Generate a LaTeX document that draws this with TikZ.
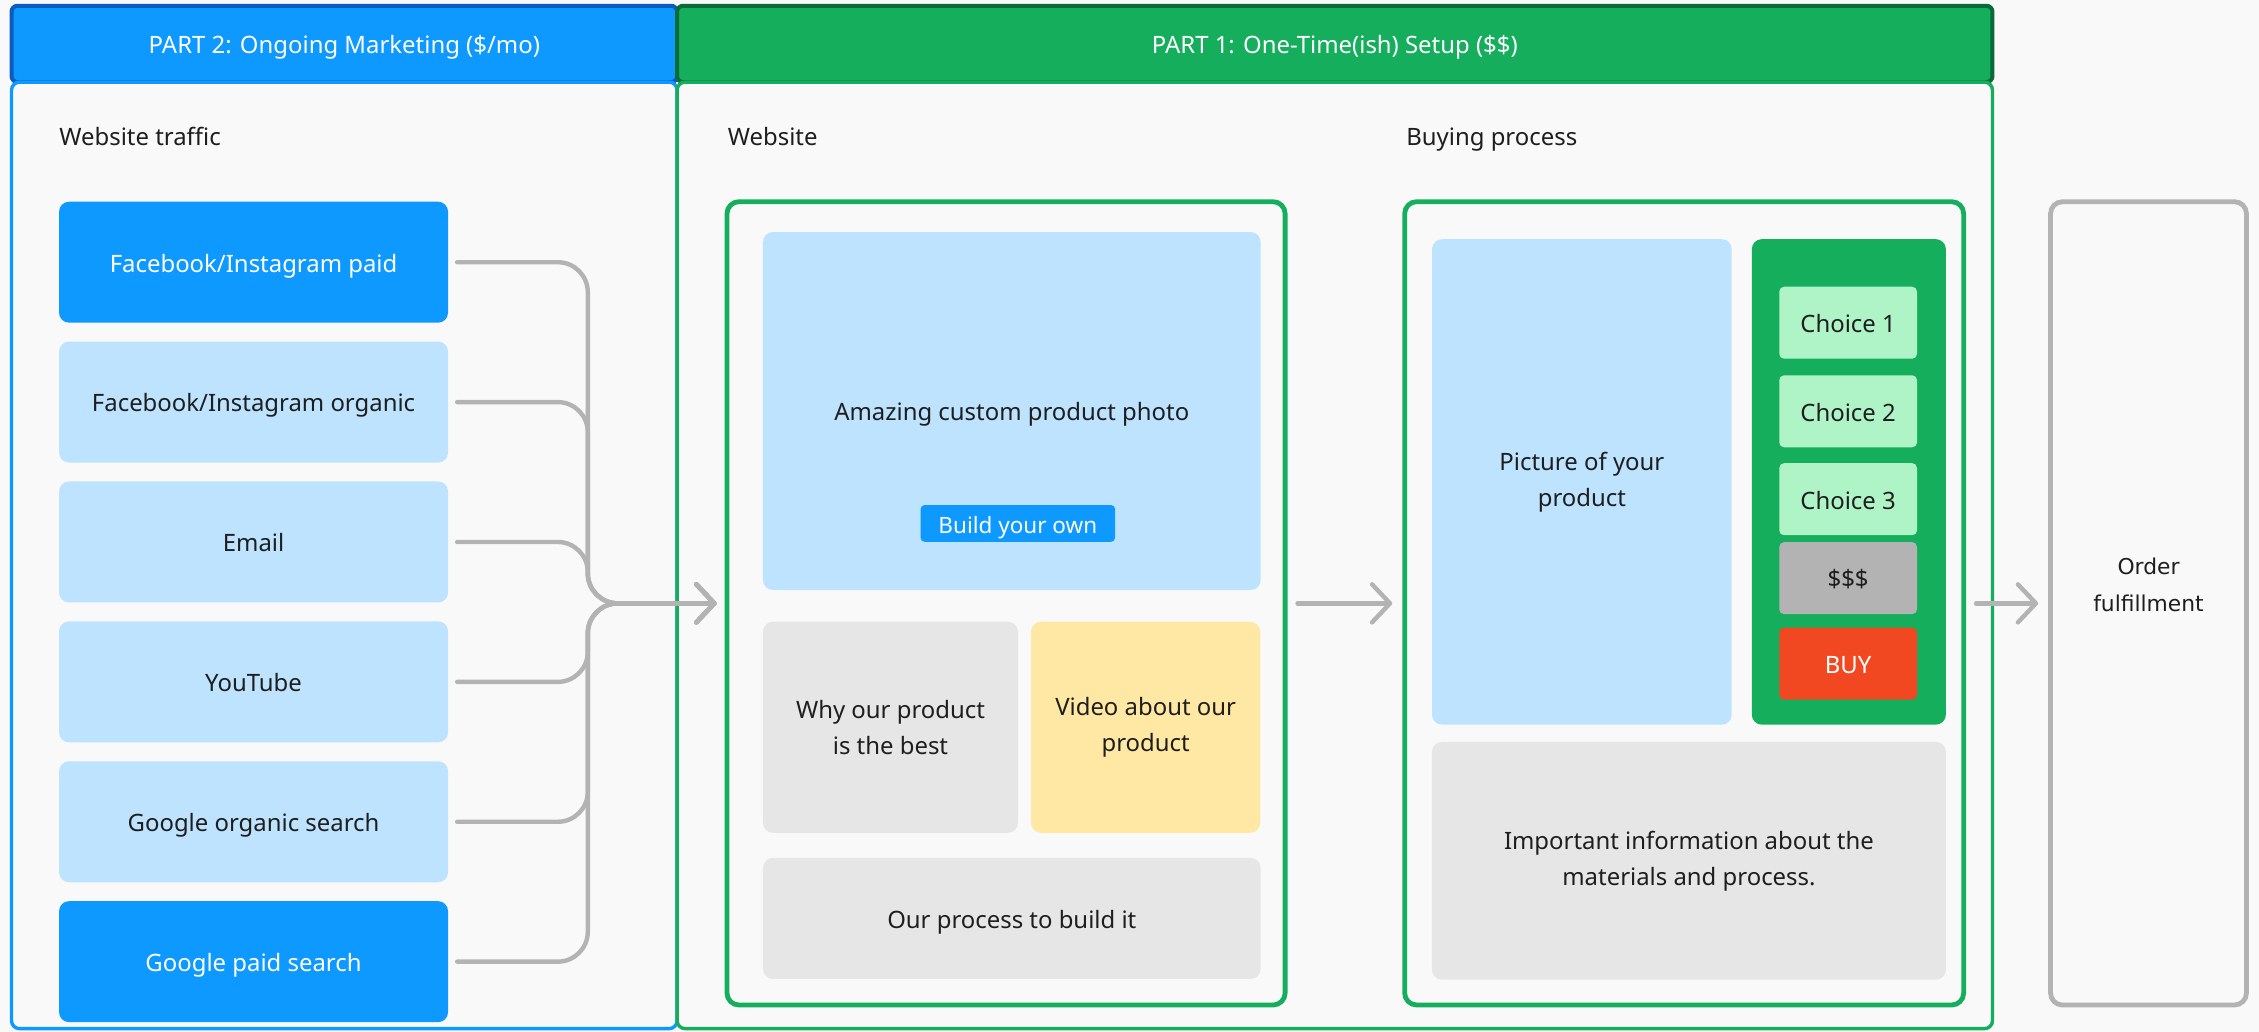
\documentclass[tikz,border=0pt]{standalone}
\usepackage{fontspec}
\setmainfont{Noto Sans}
\newfontfamily\orderfont{DejaVu Sans}
\usetikzlibrary{arrows.meta,positioning}
\definecolor{Paper}{HTML}{F9F9F9}
\definecolor{Ink}{HTML}{1E1E1E}
\definecolor{Blue}{HTML}{0D99FF}
\definecolor{BlueDark}{HTML}{0B5CC0}
\definecolor{Green}{HTML}{14AE5C}
\definecolor{GreenDark}{HTML}{0B6B38}
\definecolor{Sky}{HTML}{BDE3FF}
\definecolor{Mist}{HTML}{E6E6E6}
\definecolor{Butter}{HTML}{FFE8A3}
\definecolor{Mint}{HTML}{AFF4C6}
\definecolor{Wire}{HTML}{B3B3B3}
\definecolor{Alert}{HTML}{F24822}
\newcommand{\px}{0.36mm}
\newcommand{\boxfont}{\fontsize{17pt}{25.6pt}\selectfont}
\newcommand{\btnfont}{\fontsize{16pt}{20pt}\selectfont}
\tikzset{
  every node/.append style={text=Ink, font=\boxfont, align=center, inner sep=0pt},
  sz/.style 2 args={minimum width=#1*\px, minimum height=#2*\px},
  oneline/.style={text height=16pt, text depth=2pt},
  parthead/.style={draw=#1Dark, fill=#1, line width=1mm, rounded corners=1.5mm, text=white, oneline},
  partbody/.style={draw=#1, fill=Paper, line width=0.85mm, rounded corners=2mm},
  frame/.style={draw=Green, fill=Paper, line width=1.2mm, rounded corners=3mm},
  tile/.style={fill=#1, rounded corners=2.5mm},
  traffic/.style={tile=#1, sz={270}{84}, oneline},
  chip/.style={fill=#1, rounded corners=1.2mm, sz={95.6}{50}, oneline},
  tag/.style={anchor=base west},
  link/.style={draw=Wire, line width=1.1mm, rounded corners=7.5mm, line cap=round},
  arr/.style={link, -{Straight Barb[length=4.5mm,width=9.5mm,line cap=round,line join=round]}},
}

\begin{document}
\begin{tikzpicture}[x=\px, y=-\px]
  \useasboundingbox[fill=Paper] (0,0) rectangle (1568,716);

  % the two parts
  \node[parthead=Blue, sz={462}{53}] (hd2) at (239,30.5) {PART 2: Ongoing Marketing (\$/mo)};
  \node[parthead=Green, sz={913}{53}] (hd1) at (926.5,30.5) {PART 1: One-Time(ish) Setup (\$\$)};
  \node[partbody=Blue, sz={462}{657}] (bd2) at (239,385.5) {};
  \node[partbody=Green, sz={913}{657}] (bd1) at (926.5,385.5) {};

  \node[tag] (lbltraffic) at (41,101) {Website traffic};
  \node[tag] (lblweb) at (505,101) {Website};
  \node[tag] (lblbuy) at (976,101) {Buying process};

  % traffic sources
  \foreach \i/\fillc/\txtc/\lbl in {1/Blue/white/{Facebook/Instagram paid},
      2/Sky/Ink/{Facebook/Instagram organic}, 3/Sky/Ink/Email, 4/Sky/Ink/YouTube,
      5/Sky/Ink/Google organic search, 6/Blue/white/Google paid search}
    \node[traffic=\fillc, text=\txtc] (t\i) at (176,{182+(\i-1)*97.1}) {\lbl};

  % website
  \node[frame, sz={387.4}{557.6}] (web) at (698.3,418.8) {};
  \node[tile=Sky, sz={345.4}{248.5}, oneline] (photo) at (702.3,285.3) {Amazing custom product photo};
  \node[fill=Blue, text=white, rounded corners=1mm, sz={135}{25.5}, font=\btnfont, oneline] (build) at (706.5,363.3) {Build your own};
  \node[tile=Mist, sz={177}{146.5}] (why) at (618.1,504.8) {Why our product\\is the best};
  \node[tile=Butter, sz={159.1}{146.5}] (video) at (795.2,504.8) {Video about our\\product};
  \node[tile=Mist, sz={345.4}{84}, oneline] (process) at (702.3,637.5) {Our process to build it};

  % buying process
  \node[frame, sz={388}{557.6}] (buy) at (1169,418.8) {};
  \node[tile=Sky, sz={208}{337}] (pic) at (1098,334.5) {Picture of your\\product};
  \node[tile=Green, sz={134.7}{337}] (options) at (1283.3,334.5) {};
  \foreach \j/\y/\fillc/\txtc/\lbl in {1/224/Mint/Ink/Choice 1, 2/285.5/Mint/Ink/Choice 2,
      3/346.5/Mint/Ink/Choice 3, 4/401.3/Wire/Ink/\$\$\$, 5/460.6/Alert/white/BUY}
    \node[chip=\fillc, text=\txtc] (opt\j) at (1282.8,\y) {\lbl};
  \node[tile=Mist, sz={356.7}{165}] (info) at (1172.3,597.5) {Important information about the\\materials and process.};

  % fulfillment
  \node[draw=Wire, fill=Paper, line width=1.2mm, rounded corners=3mm, sz={136}{557.6}] (order) at (1491.3,418.8) {};
  \node[font=\orderfont\fontsize{15.5pt}{26.6pt}\selectfont] (orderlbl) at (1491.3,406) {Order\\fulfillment};

  % connectors
  \coordinate (hub) at (408,418.8);
  \foreach \i in {1,...,6}
    \draw[arr, shorten <=2.2mm, shorten >=2mm] (t\i.east) -| (hub) -- (web.west);
  \draw[arr, shorten <=2.5mm, shorten >=2.5mm] (web) -- (buy);
  \draw[arr, shorten <=2.5mm, shorten >=2.5mm] (buy) -- (order);
\end{tikzpicture}
\end{document}
